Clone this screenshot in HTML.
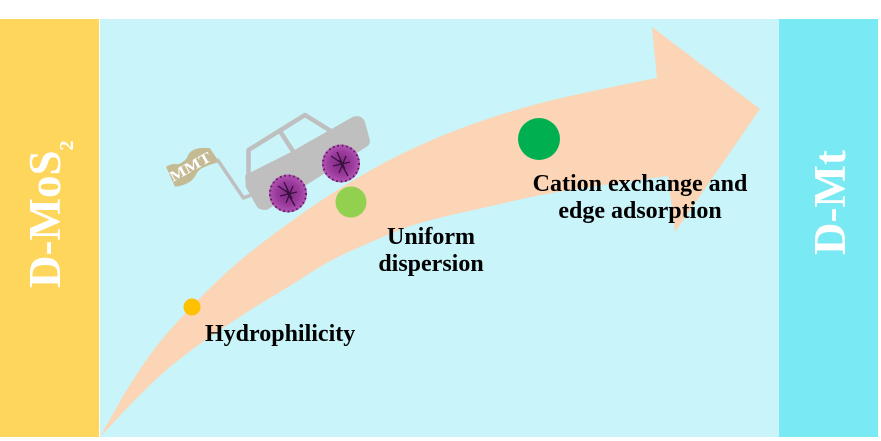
<!DOCTYPE html>
<html>
<head>
<meta charset="utf-8">
<style>
  html, body { margin:0; padding:0; background:#ffffff; }
  svg { display:block; }
  .lbl { font-family:"Liberation Serif", "DejaVu Serif", serif; font-weight:bold; font-size:24px; fill:#000; }
  .side { font-family:"Liberation Serif", "DejaVu Serif", serif; font-weight:bold; font-size:45px; fill:#ffffff; }
</style>
</head>
<body>
<svg width="881" height="441" viewBox="0 0 881 441" xmlns="http://www.w3.org/2000/svg">
  <defs>
    <radialGradient id="wg" cx="50%" cy="50%" r="50%">
      <stop offset="0%" stop-color="#7d2a80"/>
      <stop offset="60%" stop-color="#9a3a9c"/>
      <stop offset="100%" stop-color="#b457b4"/>
    </radialGradient>
  </defs>
  <rect x="0" y="0" width="881" height="441" fill="#ffffff"/>
  <!-- panels -->
  <rect x="0" y="19" width="99" height="418" fill="#FDD65B"/>
  <rect x="100" y="19" width="679" height="418" fill="#C9F4F9"/>
  <rect x="779" y="19" width="99" height="418" fill="#79E9F3"/>

  <!-- curved arrow -->
  <path fill="#FBD5B5" d="M100,437 L114,412 Q128,387 141.5,367 Q155,347 170,330 Q185,313 206.5,291.5 Q228,270 248,254 Q268,238 301.5,214 Q335,190 377.5,166.5 Q420,143 470,125 Q520,107 570,96 Q620,85 657,78 L652,27 L760,109 L675,232 L668,176 L610.5,184 Q553,192 526.5,198 Q500,204 460,213 Q420,222 403.5,228.5 Q387,235 358.5,247.5 Q330,260 312.5,271.5 Q295,283 270,298 Q245,313 220,330 Q195,347 178.5,360 Q162,373 145,390 Q128,407 114,422 L100,437 Z"/>

  <!-- flag -->
  <path fill="#C4BA93" d="M166,166.7 Q172,163 178.3,164.3 Q184,162 186.7,158.3 Q189,152 193.3,150 Q200,147 210,148.3 L219.3,162.3 Q211,164 205,166.7 Q199,169 196.7,173.3 Q194,179 190,181.7 Q183,186 175,186.7 Z"/>
  <text x="0" y="0" transform="translate(173,182) rotate(-29)" font-family="Liberation Serif, serif" font-weight="bold" font-size="15" fill="#ffffff" textLength="45" lengthAdjust="spacingAndGlyphs">MMT</text>

  <!-- tow pole -->
  <polyline points="217,159 243.5,198 256,193" fill="none" stroke="#BFBFBF" stroke-width="3.5" stroke-linejoin="round"/>

  <!-- car cabin outline -->
  <polyline points="248.5,188 248.5,150 305,115 334,133" fill="none" stroke="#BFBFBF" stroke-width="4.5" stroke-linejoin="round"/>
  <line x1="280.5" y1="132" x2="293.5" y2="152" stroke="#BFBFBF" stroke-width="4.5"/>
  <!-- car body -->
  <path fill="#BFBFBF" stroke="#BFBFBF" stroke-width="3" stroke-linejoin="round" d="M246.7,176 L291.7,153.3 L353.3,118.3 Q360,116 363.3,121.7 L368.3,140 Q369,144 365,146 L266.7,208.3 Q261,209 258.3,206 L247.3,186.7 Z"/>

  <!-- wheels -->
  <g>
    <circle cx="288" cy="193.5" r="19" fill="url(#wg)"/>
    <circle cx="288" cy="193.5" r="18" fill="none" stroke="#5a1a5e" stroke-width="2" stroke-dasharray="1.5 3"/>
    <path d="M278,186 L290,194 M284,182 L292,199 M293,186 L286,203 M280,196 L297,192 M286,190 L295,206" stroke="#3a1040" stroke-width="1.3" fill="none"/>
  </g>
  <g>
    <circle cx="341" cy="163.5" r="19" fill="url(#wg)"/>
    <circle cx="341" cy="163.5" r="18" fill="none" stroke="#5a1a5e" stroke-width="2" stroke-dasharray="1.5 3"/>
    <path d="M331,156 L343,164 M337,152 L345,169 M346,156 L339,173 M333,166 L350,162 M339,160 L348,176" stroke="#3a1040" stroke-width="1.3" fill="none"/>
  </g>

  <!-- dots -->
  <circle cx="192" cy="307" r="8.5" fill="#FFC000"/>
  <circle cx="351" cy="202" r="15.5" fill="#92D050"/>
  <circle cx="539" cy="139" r="21" fill="#00B050"/>

  <!-- labels -->
  <text class="lbl" x="205" y="341">Hydrophilicity</text>
  <text class="lbl" x="431" y="244" text-anchor="middle">Uniform</text>
  <text class="lbl" x="431" y="271" text-anchor="middle">dispersion</text>
  <text class="lbl" x="640" y="191" text-anchor="middle">Cation exchange and</text>
  <text class="lbl" x="640" y="218" text-anchor="middle">edge adsorption</text>

  <!-- side labels -->
  <text class="side" transform="translate(60,288) rotate(-90)">D-MoS<tspan font-size="20" dy="13">2</tspan></text>
  <text class="side" transform="translate(845,255) rotate(-90)">D-Mt</text>
</svg>
</body>
</html>
